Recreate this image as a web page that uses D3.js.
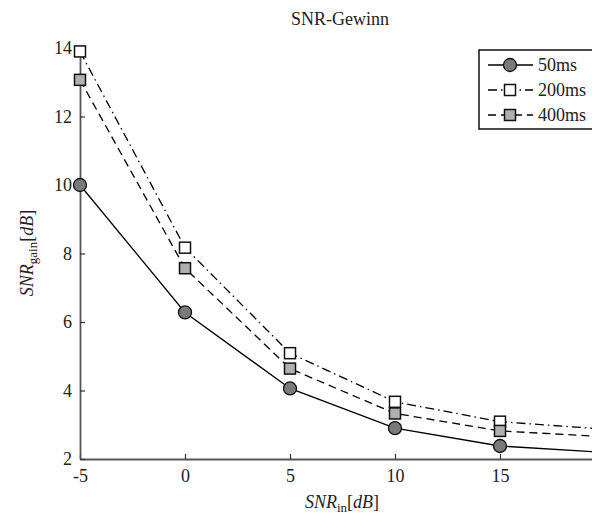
<!DOCTYPE html>
<html><head><meta charset="utf-8">
<script src="https://cdn.jsdelivr.net/npm/d3@7"></script>
<style>body{margin:0;background:#fff} svg{display:block} text{font-family:"Liberation Serif","Times New Roman",serif}</style>
</head><body><svg id="chart" width="592" height="516"></svg>
<script>
// Input SNR (dB) and the resulting SNR gain (dB) for three window lengths
const snrIn = [-5, 0, 5, 10, 15, 20];
const gain50 = [10.0, 6.28, 4.06, 2.90, 2.38, 2.19];
const gain200 = [13.9, 8.17, 5.09, 3.67, 3.09, 2.87];
const gain400 = [13.07, 7.57, 4.64, 3.33, 2.82, 2.65];
const seriesNames = ["50ms", "200ms", "400ms"];
const xTicks = [-5, 0, 5, 10, 15];
const yTicks = [2, 4, 6, 8, 10, 12, 14];

const svg = d3.select("#chart");
const x = d3.scaleLinear().domain([-5, 20]).range([80, 605]);
const y = d3.scaleLinear().domain([2, 14]).range([459, 48]);

const styles = [
  {name: seriesNames[0], values: gain50, dash: null, shape: "circle", fill: "#7a7a7a"},
  {name: seriesNames[1], values: gain200, dash: "9,4,1.5,4", shape: "square", fill: "#ffffff"},
  {name: seriesNames[2], values: gain400, dash: "8,5", shape: "square", fill: "#b0b0b0"}
];

// axes (ticks point inward)
const xAxis = svg.append("g").attr("transform", `translate(0,${y(2)})`)
  .call(d3.axisBottom(x).tickValues(xTicks).tickSizeInner(-5).tickSizeOuter(0).tickPadding(10));
const yAxis = svg.append("g").attr("transform", `translate(${x(-5)},0)`)
  .call(d3.axisLeft(y).tickValues(yTicks).tickSizeInner(-5).tickSizeOuter(0).tickPadding(8));
[xAxis, yAxis].forEach(g => {
  g.select(".domain").attr("stroke", "#555").attr("stroke-width", 1.8);
  g.selectAll(".tick line").attr("stroke", "#333").attr("stroke-width", 1.2);
  g.selectAll(".tick text").attr("font-size", 18).attr("fill", "#222")
    .style("font-family", "'Liberation Serif', serif");
});
xAxis.selectAll(".tick text").text(d => d < 0 ? "-" + Math.abs(d) : d);

const line = d3.line().x((d, i) => x(snrIn[i])).y(d => y(d));

function marker(g, shape, fill, cx, cy) {
  if (shape === "circle") {
    g.append("circle").attr("cx", cx).attr("cy", cy).attr("r", 6.5)
      .attr("fill", fill).attr("stroke", "#111").attr("stroke-width", 1.3);
  } else {
    g.append("rect").attr("x", cx - 5.5).attr("y", cy - 5.5).attr("width", 11).attr("height", 11)
      .attr("fill", fill).attr("stroke", "#111").attr("stroke-width", 1.5);
  }
}

const plot = svg.append("g");
styles.forEach(s => {
  plot.append("path").datum(s.values).attr("d", line).attr("fill", "none")
    .attr("stroke", "#000").attr("stroke-width", 1.3)
    .attr("stroke-dasharray", s.dash);
});
styles.forEach(s => {
  s.values.forEach((v, i) => marker(plot, s.shape, s.fill, x(snrIn[i]), y(v)));
});

// title
svg.append("text").attr("x", 340).attr("y", 25).attr("text-anchor", "middle")
  .attr("font-size", 18).attr("fill", "#222").text("SNR-Gewinn");

// x label
const xl = svg.append("text").attr("x", 342).attr("y", 508).attr("text-anchor", "middle")
  .attr("font-size", 18).attr("fill", "#222");
xl.append("tspan").attr("font-style", "italic").text("SNR");
xl.append("tspan").attr("font-size", 13).attr("dy", 4).text("in");
xl.append("tspan").attr("dy", -4).text("[");
xl.append("tspan").attr("font-style", "italic").text("dB");
xl.append("tspan").text("]");

// y label
const yl = svg.append("text").attr("transform", "translate(33,253) rotate(-90)")
  .attr("text-anchor", "middle").attr("font-size", 18).attr("fill", "#222");
yl.append("tspan").attr("font-style", "italic").text("SNR");
yl.append("tspan").attr("font-size", 13).attr("dy", 4).text("gain");
yl.append("tspan").attr("dy", -4).text("[");
yl.append("tspan").attr("font-style", "italic").text("dB");
yl.append("tspan").text("]");

// legend
const lg = svg.append("g");
lg.append("rect").attr("x", 479).attr("y", 50).attr("width", 130).attr("height", 79)
  .attr("fill", "#fff").attr("stroke", "#111").attr("stroke-width", 1.5);
styles.forEach((s, i) => {
  const cy = 65 + i * 25;
  lg.append("line").attr("x1", 488).attr("x2", 533).attr("y1", cy).attr("y2", cy)
    .attr("stroke", "#000").attr("stroke-width", 1.3).attr("stroke-dasharray", s.dash);
  marker(lg, s.shape, s.fill, 510, cy);
  lg.append("text").attr("x", 538).attr("y", cy + 6).attr("font-size", 18).attr("fill", "#222").text(s.name);
});
</script></body></html>
